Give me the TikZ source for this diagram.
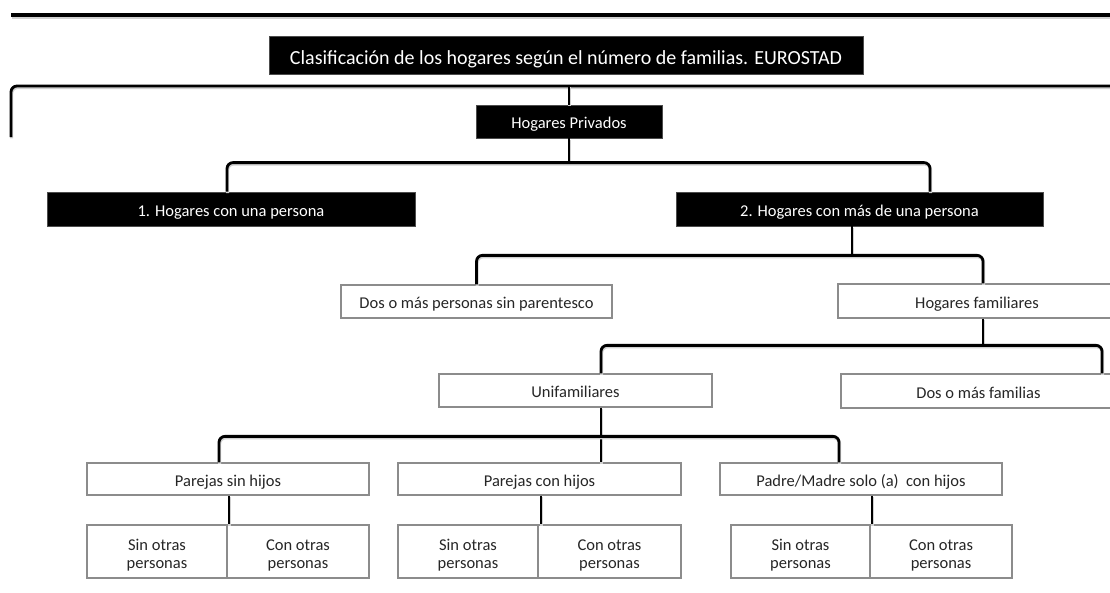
\documentclass[tikz,border=0pt]{standalone}
\usepackage{fontspec}
\setmainfont{Carlito}
% two-line leaf label with fixed line positions
\newcommand{\leafText}[2]{\rule{0pt}{21pt}#1\\#2\rule[-5.5pt]{0pt}{5.5pt}}
\begin{document}
\begin{tikzpicture}[x=1pt,y=-1pt,
  conn/.style={line width=2.8pt, black, rounded corners=6pt,
    preaction={draw=black!18, line width=3.2pt, transform canvas={shift={(0.6pt,-1.4pt)}}}},
  rule/.style={line width=3.6pt, black,
    preaction={draw=black!18, line width=3.8pt, transform canvas={shift={(0.6pt,-1.6pt)}}}},
  bbox/.style={draw=black!70, line width=0.8pt, fill=black, text=white, inner sep=0pt,
    text height=14pt, text depth=0pt, font=\fontsize{16.5}{19}\selectfont},
  wbox/.style={draw=black!45, line width=1.3pt, fill=white, text=black!85, inner sep=0pt,
    text height=14pt, text depth=0pt, font=\fontsize{16.5}{19}\selectfont},
  sbox/.style={draw=black!45, line width=1.3pt, fill=white, text=black!85, inner sep=0pt,
    minimum height=53pt, align=center, font=\fontsize{16.5}{18.5}\selectfont}]
\useasboundingbox (0,0) rectangle (1110,592);
\clip (0,0) rectangle (1110,592);

% rules and outer bracket
\coordinate (ruleL) at (11,15);
\coordinate (ruleR) at (1114,15);
\draw[rule] (ruleL) -- (ruleR);
\coordinate (brL) at (11,137);
\coordinate (brR) at (1114,86);

% black headings
\node[bbox, minimum width=594pt, minimum height=38pt, text height=18pt,
  font=\fontsize{20}{22}\selectfont]
  (title) at (566,55) {Clasificación de los hogares según el número de familias. EUROSTAD};
\node[bbox, minimum width=186pt, minimum height=33pt] (hp) at (569,121.5) {Hogares Privados};
\node[bbox, minimum width=368pt, minimum height=34pt] (b1) at (231,209) {1. Hogares con una persona};
\node[bbox, minimum width=367pt, minimum height=34pt] (b2) at (859.5,209) {2. Hogares con más de una persona};

% white boxes
\node[wbox, minimum width=271pt, minimum height=33pt] (dm) at (476.5,301.5) {Dos o más personas sin parentesco};
\node[wbox, minimum width=278pt, minimum height=34pt] (hf) at (977,301) {Hogares familiares};
\node[wbox, minimum width=273pt, minimum height=33pt] (uf) at (575.5,390.5) {Unifamiliares};
\node[wbox, minimum width=275pt, minimum height=34pt] (df) at (978.5,391) {Dos o más familias};
\node[wbox, minimum width=282pt, minimum height=32pt] (ps) at (228,479) {Parejas sin hijos};
\node[wbox, minimum width=283pt, minimum height=32pt] (pc) at (539.5,479) {Parejas con hijos};
\node[wbox, minimum width=282pt, minimum height=32pt] (pm) at (861,479) {Padre/Madre solo (a)\ \ con hijos};

% leaf boxes
\node[sbox, minimum width=140pt] (ps1) at (157,551.5) {\leafText{Sin otras}{personas}};
\node[sbox, minimum width=142pt] (ps2) at (298,551.5) {\leafText{Con otras}{personas}};
\node[sbox, minimum width=140pt] (pc1) at (468,551.5) {\leafText{Sin otras}{personas}};
\node[sbox, minimum width=143pt] (pc2) at (609.5,551.5) {\leafText{Con otras}{personas}};
\node[sbox, minimum width=139pt] (pm1) at (800.5,551.5) {\leafText{Sin otras}{personas}};
\node[sbox, minimum width=142pt] (pm2) at (941,551.5) {\leafText{Con otras}{personas}};

% connectors
\draw[conn] (brL) |- (brR);
\draw[conn] (hp.north) -- (hp.north |- brR);

\draw[conn] (hp.south) -- ++(0,25);
\draw[conn] ([xshift=-4pt]b1.north) -- ++(0,-29) -| ([xshift=70.5pt]b2.north);

\draw[conn] ([xshift=-7.5pt]b2.south) -- ++(0,30);
\draw[conn] (dm.north) -- ++(0,-29) -| ([xshift=6pt]hf.north);

\draw[conn] ([xshift=6pt]hf.south) -- ++(0,28);
\draw[conn] ([xshift=25.5pt]uf.north) -- ++(0,-28) -| ([xshift=123.5pt]df.north);

\draw[conn] ([xshift=25.5pt]uf.south) -- ([xshift=25.5pt]uf.south |- pc.north);
\draw[conn] ([xshift=-9pt]ps.north) -- ++(0,-26) -| ([xshift=-22pt]pm.north);

\draw[conn] ([xshift=1pt]ps.south) -- ([xshift=1pt]ps.south |- ps1.north);
\draw[conn] ([xshift=1.5pt]pc.south) -- ([xshift=1.5pt]pc.south |- pc1.north);
\draw[conn] ([xshift=11pt]pm.south) -- ([xshift=11pt]pm.south |- pm1.north);
\end{tikzpicture}
\end{document}
